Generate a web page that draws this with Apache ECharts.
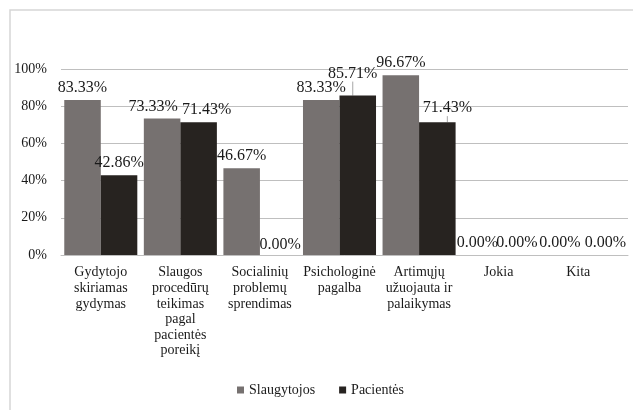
<!DOCTYPE html>
<html>
<head>
<meta charset="utf-8">
<script src="https://cdn.jsdelivr.net/npm/echarts@6/dist/echarts.min.js"></script>
<style>
  html, body { margin: 0; padding: 0; background: #fff; }
  #main { width: 633px; height: 412px; }
</style>
</head>
<body>
<div id="main"></div>
<script>
// categories and values (percent)
var categories = [
  'Gydytojo\nskiriamas\ngydymas',
  'Slaugos\nprocedūrų\nteikimas\npagal\npacientės\nporeikį',
  'Socialinių\nproblemų\nsprendimas',
  'Psichologinė\npagalba',
  'Artimųjų\nužuojauta ir\npalaikymas',
  'Jokia',
  'Kita'
];
var seriesNames = ['Slaugytojos', 'Pacientės'];
var slaugytojos = [83.33, 73.33, 46.67, 83.33, 96.67, 0, 0];
var pacientes = [42.86, 71.43, 0, 85.71, 71.43, 0, 0];
var yTicks = [0, 20, 40, 60, 80, 100];

var colors = ['#767170', '#272320'];
var font = '"Liberation Serif", "DejaVu Serif", serif';

// label nudges like in the original (seriesIndex_dataIndex -> [dx, dy])
var nudges = {
  '0_1': [-9, 0],
  '1_1': [8, 0],
  '1_2': [2, 2],
  '1_3': [-5, -10],
  '1_4': [10, -2],
  '0_5': [-3, 0],
  '1_6': [9, 0]
};
// labels that get a leader line
var leaders = ['1_3', '1_4'];

var chart = echarts.init(document.getElementById('main'));

function barSeries(name, values, idx) {
  var data = values.map(function (v, i) {
    var line = leaders.indexOf(idx + '_' + i) >= 0;
    return { value: v, labelLine: { show: line } };
  });
  return {
    name: name,
    type: 'bar',
    data: data,
    barGap: '0%',
    barCategoryGap: '8.2%',
    itemStyle: { color: colors[idx] },
    label: {
      show: true,
      position: 'top',
      distance: 4,
      fontFamily: font,
      fontSize: 16,
      color: '#1a1a1a',
      formatter: function (p) { return p.value.toFixed(2) + '%'; }
    },
    labelLine: {
      show: false,
      lineStyle: { color: '#a6a6a6', width: 1 }
    },
    labelLayout: function (p) {
      var n = nudges[p.seriesIndex + '_' + p.dataIndex];
      if (!n) return {};
      return { dx: n[0], dy: n[1] };
    }
  };
}

chart.setOption({
  animation: false,
  textStyle: { fontFamily: font },
  graphic: [{
    type: 'polyline',
    shape: { points: [[10, 410], [10, 10], [633, 10]] },
    style: { stroke: '#d6d6d6', lineWidth: 1.5, fill: null }
  }],
  legend: {
    data: seriesNames,
    left: 232,
    top: 378,
    icon: 'rect',
    itemWidth: 7,
    itemHeight: 7,
    itemGap: 24,
    textStyle: { fontFamily: font, fontSize: 14, color: '#1a1a1a' }
  },
  grid: [
    // bars
    { left: 61, right: 15, top: 69, bottom: 157 },
    // gridlines run a bit past the last category
    { left: 61, right: 5, top: 69, bottom: 157 }
  ],
  xAxis: [{
    type: 'category',
    gridIndex: 0,
    data: categories,
    axisTick: { show: false },
    axisLine: { show: false },
    axisLabel: {
      interval: 0,
      margin: 10,
      fontFamily: font,
      fontSize: 14,
      lineHeight: 15.6,
      color: '#1a1a1a',
      align: 'center'
    }
  }, {
    type: 'value',
    gridIndex: 1,
    min: 0,
    max: 1,
    axisTick: { show: false },
    axisLabel: { show: false },
    splitLine: { show: false },
    axisLine: { show: true, lineStyle: { color: '#bfbfbf', width: 1 } }
  }],
  yAxis: [{
    type: 'value',
    gridIndex: 0,
    min: yTicks[0],
    max: yTicks[yTicks.length - 1],
    interval: 20,
    axisLine: { show: false },
    axisTick: { show: false },
    splitLine: { show: false },
    axisLabel: {
      margin: 14,
      fontFamily: font,
      fontSize: 14,
      color: '#1a1a1a',
      formatter: '{value}%'
    }
  }, {
    type: 'value',
    gridIndex: 1,
    min: yTicks[0],
    max: yTicks[yTicks.length - 1],
    interval: 20,
    axisLine: { show: false },
    axisTick: { show: false },
    axisLabel: { show: false },
    splitLine: { lineStyle: { color: '#bfbfbf', width: 1 } }
  }],
  series: [
    barSeries(seriesNames[0], slaugytojos, 0),
    barSeries(seriesNames[1], pacientes, 1)
  ]
});
</script>
</body>
</html>
